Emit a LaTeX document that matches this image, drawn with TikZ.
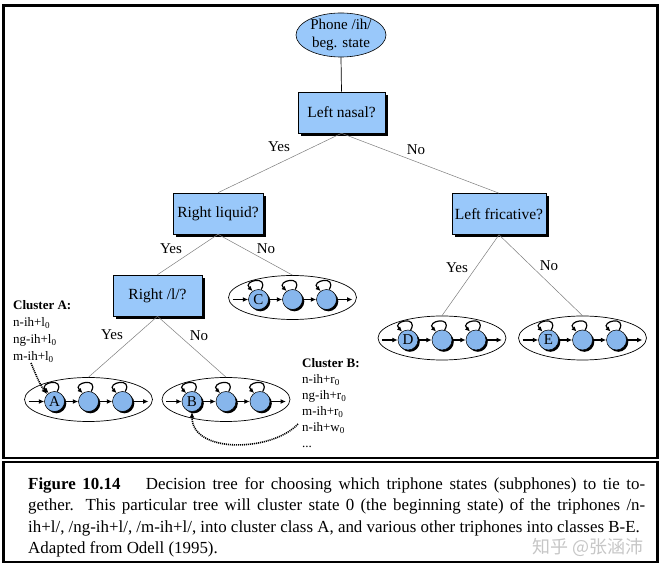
\documentclass[tikz,border=0pt]{standalone}
\usepackage{fontspec}
\setmainfont{Liberation Serif}
\newfontfamily\cjkfont{Noto Sans CJK SC}
\usetikzlibrary{shapes.geometric,shadows,arrows.meta}
\definecolor{boxblue}{RGB}{153,200,250}
\definecolor{stateblue}{RGB}{135,182,236}
\definecolor{treegray}{RGB}{125,125,125}
\newcommand{\hmmcluster}[4]{%
  \node[hmmell] (#1) at (#2,#3) {};
  \node[hstate] (#1a) at (#2-34,#3+2) {#4};
  \node[hstate] (#1b) at (#2,#3+2) {};
  \node[hstate] (#1c) at (#2+34,#3+2) {};
  \coordinate (#1in) at (#2-60,#3+2);
  \coordinate (#1out) at (#2+60,#3+2);
  \draw[harr] (#1in) -- (#1a);
  \draw[harr] (#1a) -- (#1b);
  \draw[harr] (#1b) -- (#1c);
  \draw[harr] (#1c) -- (#1out);
  \draw[larr] (#1a.75) .. controls +(60:17pt) and +(135:15pt) .. (#1a.125);
  \draw[larr] (#1b.75) .. controls +(60:17pt) and +(135:15pt) .. (#1b.125);
  \draw[larr] (#1c.75) .. controls +(60:17pt) and +(135:15pt) .. (#1c.125);
}
\begin{document}
\begin{tikzpicture}[x=1pt,y=-1pt,
  qbox/.style={rectangle, draw=black, line width=0.6pt, fill=boxblue, minimum height=41pt, inner sep=0pt,
    font=\fontsize{15.5}{17}\selectfont,
    drop shadow={shadow xshift=3pt, shadow yshift=-3pt, fill=black, opacity=1}},
  phone/.style={ellipse, draw=black, line width=0.6pt, fill=boxblue, minimum width=90pt, minimum height=43pt,
    inner sep=0pt, align=center, font=\fontsize{15}{17.5}\selectfont},
  hmmell/.style={ellipse, draw=black, line width=0.7pt, minimum width=128pt, minimum height=44pt, inner sep=0pt},
  hstate/.style={circle, draw=black, line width=0.5pt, fill=stateblue, minimum size=20pt, inner sep=0pt,
    font=\fontsize{15}{15}\selectfont,
    drop shadow={shadow xshift=1.8pt, shadow yshift=-1.8pt, fill=black, opacity=1}},
  harr/.style={line width=1.3pt, -{Latex[length=5.5pt,width=5pt]}},
  larr/.style={line width=1.2pt, -{Latex[length=5pt,width=4.5pt]}},
  tline/.style={draw=treegray, line width=0.5pt},
  lab/.style={font=\fontsize{15}{17}\selectfont, inner sep=0pt},
  clus/.style={anchor=north west, align=left, inner sep=0pt, font=\fontsize{13}{17}\selectfont},
  dotarr/.style={line width=1.6pt, dash pattern=on 1.1pt off 0.9pt, -{Latex[length=6pt,width=5pt]}},
  captext/.style={anchor=north west, inner sep=0pt, font=\fontsize{16.9}{21.5}\selectfont},
]
\useasboundingbox (0,0) rectangle (665,569);
% frames
\draw[line width=2.2pt] (3.5,5.5) rectangle (657.5,458);
\draw[line width=2.2pt] (3.5,462) rectangle (657.5,562);

% tree nodes
\node[phone] (phone) at (341,35) {Phone /ih/\\beg. state};
\node[qbox, minimum width=87pt] (nasal) at (341.5,112.5) {Left nasal?};
\node[qbox, minimum width=90pt] (liquid) at (218,213.5) {Right liquid?};
\node[qbox, minimum width=94pt] (fric) at (499,214) {Left fricative?};
\node[qbox, minimum width=89pt] (rl) at (157.5,295.5) {Right /l/?};

% clusters
\hmmcluster{cA}{88.5}{399.5}{A}
\hmmcluster{cB}{226}{399.5}{B}
\hmmcluster{cC}{292.5}{297.5}{C}
\hmmcluster{cD}{442}{338}{D}
\hmmcluster{cE}{582.5}{338}{E}

% connectors
\draw[line width=0.7pt] (phone.south) -- (nasal.north);
\draw[tline] (nasal.south) -- (liquid.north);
\draw[tline] (nasal.south) -- (fric.north);
\draw[tline] (liquid.south) -- (rl.north);
\draw[tline] (liquid.south) -- (cC.north);
\draw[tline] (rl.south) -- (cA.north);
\draw[tline] (rl.south) -- (cB.north);
\draw[tline] (fric.south) -- (cD.north);
\draw[tline] (fric.south) -- (cE.north);

% labels
\node[lab] (y1) at (279,147) {Yes};
\node[lab] (n1) at (416,150) {No};
\node[lab] (y2) at (171,249) {Yes};
\node[lab] (n2) at (266,249) {No};
\node[lab] (y3) at (112,335) {Yes};
\node[lab] (n3) at (199,336) {No};
\node[lab] (y4) at (457,268) {Yes};
\node[lab] (n4) at (549,266) {No};

% cluster lists
\node[clus] (clA) at (13,300) {\textbf{Cluster A:}\\n-ih+l\textsubscript{0}\\ng-ih+l\textsubscript{0}\\m-ih+l\textsubscript{0}};
\node[clus, font=\fontsize{13}{16}\selectfont] (clB) at (302,358) {\textbf{Cluster B:}\\n-ih+r\textsubscript{0}\\ng-ih+r\textsubscript{0}\\m-ih+r\textsubscript{0}\\n-ih+w\textsubscript{0}\\...};

% dotted arrows
\coordinate (dA) at (31,363);
\draw[dotarr] (dA) .. controls (36,375) and (40,385) .. (cAa.135);
\coordinate (dB) at (298,424);
\draw[dotarr] (dB) .. controls (272,452) and (192,454) .. (cBa.south);

% caption
\node[captext, text width=617pt, align=justify] (cap) at (28,477)
{\textbf{Figure 10.14}\hspace{1.5em}Decision tree for choosing which triphone states (subphones) to tie to-\linebreak
gether. This particular tree will cluster state 0 (the beginning state) of the triphones /n-\linebreak
ih+l/, /ng-ih+l/, /m-ih+l/, into cluster class A, and various other triphones into classes B-E.};
\node[anchor=base west, inner sep=0pt, font=\fontsize{16.9}{21.5}\selectfont] (cap4) at (28,553.5) {Adapted from Odell (1995).};

% watermark
\node[font=\cjkfont\fontsize{18}{18}\selectfont, text=gray!45, inner sep=0pt] (wm) at (588,547) {知乎 @张涵沛};
\end{tikzpicture}
\end{document}
